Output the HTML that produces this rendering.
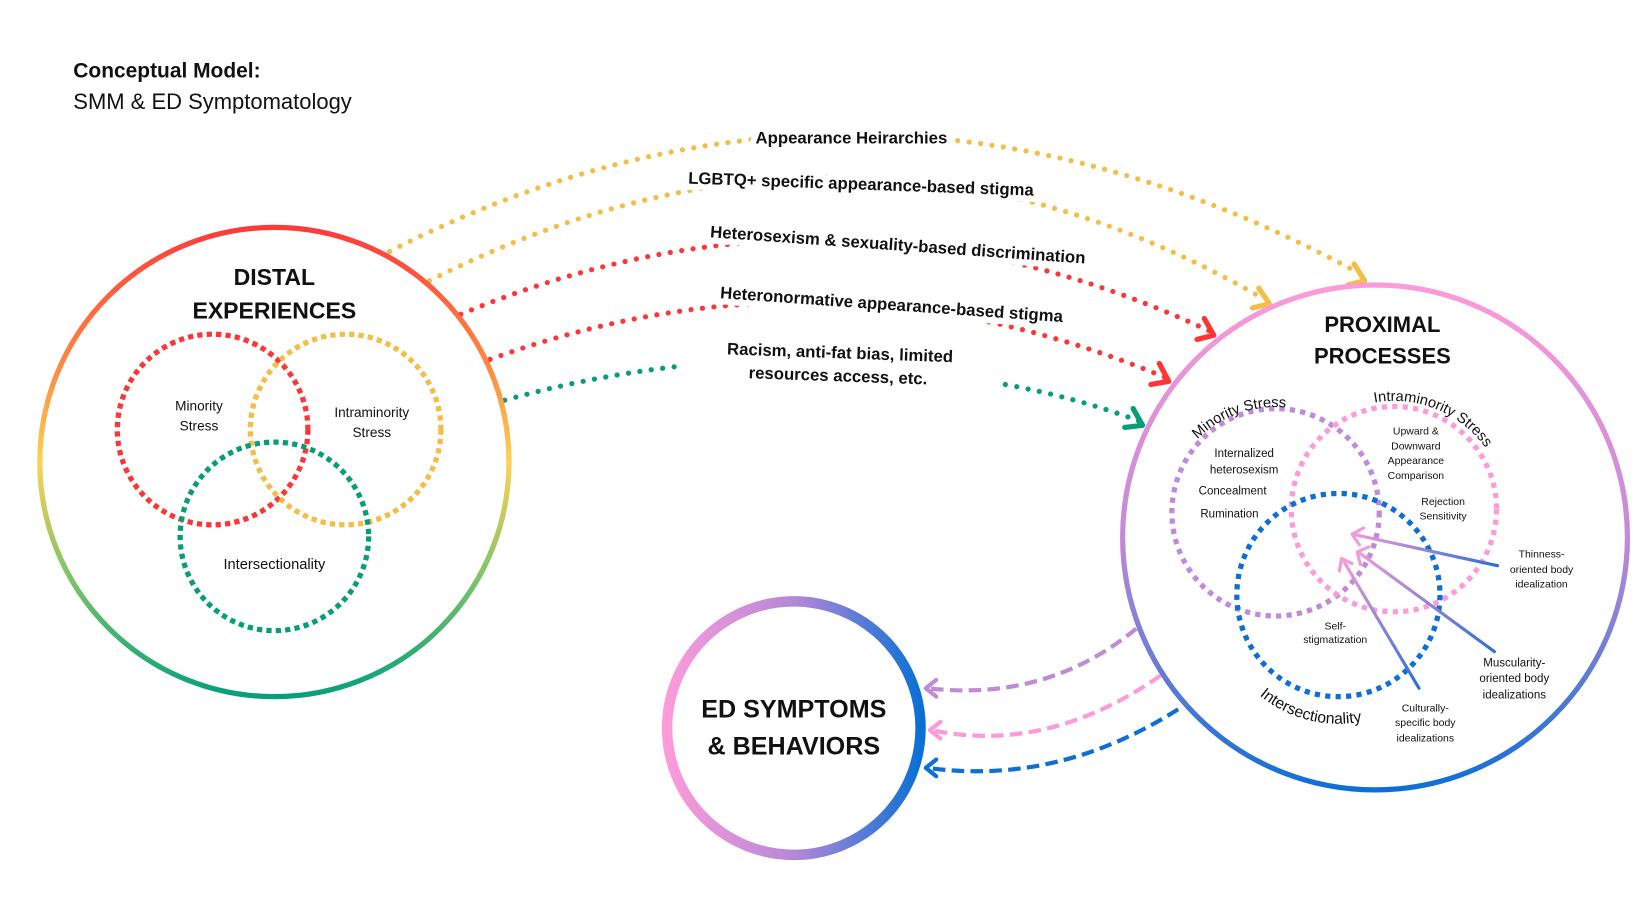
<!DOCTYPE html>
<html><head><meta charset="utf-8"><style>
html,body{margin:0;padding:0;background:#fff;}
svg{display:block;}
text{font-family:"Liberation Sans",sans-serif;fill:#111;}
.lab{font-size:16px;font-weight:bold;stroke:#fff;stroke-width:12px;paint-order:stroke;stroke-linejoin:round;}
.sm{font-size:11px;}
.xs{font-size:10px;}
</style></head><body>
<svg width="1640" height="924" viewBox="0 0 1566 882" preserveAspectRatio="none" xmlns="http://www.w3.org/2000/svg">
<defs>
<linearGradient id="gd" x1="0" y1="0" x2="0" y2="1">
<stop offset="0" stop-color="#ff3a3a"/><stop offset="0.3" stop-color="#ff8a40"/><stop offset="0.5" stop-color="#ffd154"/><stop offset="0.75" stop-color="#7cc36a"/><stop offset="1" stop-color="#06a07a"/></linearGradient>
<linearGradient id="gp" x1="0" y1="0" x2="0" y2="1">
<stop offset="0" stop-color="#fc9bd9"/><stop offset="0.5" stop-color="#c38ad8"/><stop offset="1" stop-color="#0d6fd6"/></linearGradient>
<linearGradient id="ge" x1="0" y1="0" x2="1" y2="0">
<stop offset="0" stop-color="#fc9bd9"/><stop offset="0.5" stop-color="#b488d8"/><stop offset="1" stop-color="#0a70d6"/></linearGradient>
<linearGradient id="ga" x1="1" y1="0" x2="0" y2="0">
<stop offset="0" stop-color="#2a6fd6"/><stop offset="1" stop-color="#f39ad9"/></linearGradient>
<path id="tpMin" d="M1113,480 A106,106 0 0 1 1323,480"/>
<path id="tpIntra" d="M1225,470 A108,108 0 0 1 1437,470"/>
<path id="tpInt" d="M1166,610 A118,118 0 0 0 1390,610"/>
</defs>

<text x="70" y="74" style="font-size:20px;font-weight:bold">Conceptual Model:</text>
<text x="70" y="104" style="font-size:21px">SMM &amp; ED Symptomatology</text>

<!-- top connectors -->
<g fill="none" stroke-width="5" stroke-linecap="round" stroke-dasharray="0 11">
<path d="M372,240 Q830,6 1300,262" stroke="#f4bd45"/>
<path d="M410,268 Q820,61 1208,286" stroke="#f4bd45"/>
<path d="M440,300 Q800,150 1155,316" stroke="#ff3535"/>
<path d="M468,343 Q790,226 1112,360" stroke="#ff3535"/>
<path d="M482,382 Q560,360 645,350" stroke="#069d78"/>
<path d="M960,367 Q1030,380 1088,402" stroke="#069d78"/>
</g>
<g fill="none" stroke-width="5" stroke-linecap="round" stroke-linejoin="round">
<path d="M1293,252 L1303,268 L1287,272" stroke="#f4bd45"/>
<path d="M1202,275 L1212,290 L1196,294" stroke="#f4bd45"/>
<path d="M1150,304 L1159,320 L1143,324" stroke="#ff3535"/>
<path d="M1107,347 L1116,364 L1099,367" stroke="#ff3535"/>
<path d="M1082,390 L1091,406 L1074,408" stroke="#069d78"/>
</g>
<text class="lab" x="813" y="137" text-anchor="middle">Appearance Heirarchies</text>
<text class="lab" x="822" y="181" text-anchor="middle" transform="rotate(2 822 181)">LGBTQ+ specific appearance-based stigma</text>
<text class="lab" x="857" y="239" text-anchor="middle" transform="rotate(4 857 239)">Heterosexism &amp; sexuality-based discrimination</text>
<text class="lab" x="851" y="296" text-anchor="middle" transform="rotate(4 851 296)">Heteronormative appearance-based stigma</text>
<text class="lab" x="802" y="342" text-anchor="middle" transform="rotate(2 802 342)">Racism, anti-fat bias, limited</text>
<text class="lab" x="800" y="364" text-anchor="middle" transform="rotate(2 800 364)">resources access, etc.</text>

<!-- Distal -->
<circle cx="262" cy="441" r="224" fill="none" stroke="url(#gd)" stroke-width="5"/>
<text x="262" y="272" text-anchor="middle" style="font-size:22px;font-weight:bold">DISTAL</text>
<text x="262" y="304" text-anchor="middle" style="font-size:22px;font-weight:bold">EXPERIENCES</text>
<g fill="none" stroke-width="5" stroke-dasharray="5 4">
<circle cx="203" cy="410" r="91" stroke="#ff3535"/>
<circle cx="330" cy="410" r="91" stroke="#f4bd45"/>
<circle cx="262" cy="512" r="90" stroke="#069d78"/>
</g>
<text x="190" y="392" text-anchor="middle" style="font-size:13px">Minority</text>
<text x="190" y="411" text-anchor="middle" style="font-size:13px">Stress</text>
<text x="355" y="398" text-anchor="middle" style="font-size:13px">Intraminority</text>
<text x="355" y="417" text-anchor="middle" style="font-size:13px">Stress</text>
<text x="262" y="543" text-anchor="middle" style="font-size:14px">Intersectionality</text>

<!-- dashed to ED -->
<g fill="none" stroke-width="4" stroke-dasharray="12 6">
<path d="M1085,600 Q1000,670 886,657" stroke="#c08ad8"/>
<path d="M1108,645 Q1000,720 890,697" stroke="#fc9bd9"/>
<path d="M1125,677 Q1010,750 886,733" stroke="#0d6fd6"/>
</g>
<g fill="none" stroke-width="4" stroke-linecap="round" stroke-linejoin="round">
<path d="M894,649 L884,657 L894,665" stroke="#c08ad8"/>
<path d="M898,689 L888,697 L898,705" stroke="#fc9bd9"/>
<path d="M894,725 L884,733 L894,741" stroke="#0d6fd6"/>
</g>

<!-- ED -->
<circle cx="758" cy="695" r="121" fill="#fff" stroke="url(#ge)" stroke-width="10"/>
<text x="758" y="685" text-anchor="middle" style="font-size:24px;font-weight:bold">ED SYMPTOMS</text>
<text x="758" y="720" text-anchor="middle" style="font-size:24px;font-weight:bold">&amp; BEHAVIORS</text>

<!-- Proximal -->
<circle cx="1313" cy="513" r="241" fill="#fff" stroke="url(#gp)" stroke-width="5"/>
<text x="1320" y="317" text-anchor="middle" style="font-size:21px;font-weight:bold">PROXIMAL</text>
<text x="1320" y="347" text-anchor="middle" style="font-size:21px;font-weight:bold">PROCESSES</text>
<g fill="none" stroke-width="5" stroke-dasharray="5 5">
<circle cx="1218" cy="489" r="99" stroke="#c08ad8"/>
<circle cx="1331" cy="486" r="98" stroke="#fc9bd9"/>
<circle cx="1278" cy="568" r="97" stroke="#0d6fd6"/>
</g>
<text style="font-size:14px"><textPath href="#tpMin" startOffset="38%" text-anchor="middle">Minority Stress</textPath></text>
<text style="font-size:14px"><textPath href="#tpIntra" startOffset="64%" text-anchor="middle">Intraminority Stress</textPath></text>
<text style="font-size:15px"><textPath href="#tpInt" startOffset="40%" text-anchor="middle">Intersectionality</textPath></text>

<g class="sm" text-anchor="middle">
<text class="sm" x="1188" y="436">Internalized</text>
<text class="sm" x="1188" y="452">heterosexism</text>
<text class="sm" x="1177" y="472">Concealment</text>
<text class="sm" x="1174" y="494">Rumination</text>
<text class="xs" x="1352" y="415">Upward &amp;</text>
<text class="xs" x="1352" y="429">Downward</text>
<text class="xs" x="1352" y="443">Appearance</text>
<text class="xs" x="1352" y="457">Comparison</text>
<text class="xs" x="1378" y="482">Rejection</text>
<text class="xs" x="1378" y="496">Sensitivity</text>
<text class="xs" x="1275" y="601">Self-</text>
<text class="xs" x="1275" y="614">stigmatization</text>
<text class="xs" x="1472" y="532">Thinness-</text>
<text class="xs" x="1472" y="547">oriented body</text>
<text class="xs" x="1472" y="561">idealization</text>
<text class="sm" x="1446" y="636">Muscularity-</text>
<text class="sm" x="1446" y="651">oriented body</text>
<text class="sm" x="1446" y="667">idealizations</text>
<text class="xs" x="1361" y="679">Culturally-</text>
<text class="xs" x="1361" y="693">specific body</text>
<text class="xs" x="1361" y="708">idealizations</text>
</g>

<!-- idealization arrows -->
<g fill="none" stroke-width="3" stroke-linecap="round" stroke-linejoin="round">
<line x1="1430" y1="540" x2="1292" y2="510" stroke="url(#ga)"/>
<line x1="1427" y1="622" x2="1297" y2="527" stroke="url(#ga)"/>
<line x1="1355" y1="657" x2="1282" y2="534" stroke="url(#ga)"/>
<path d="M1302,504 L1291,510 L1298,520" stroke="#f39ad9"/>
<path d="M1307,522 L1296,527 L1299,539" stroke="#f39ad9"/>
<path d="M1291,538 L1281,533 L1279,545" stroke="#f39ad9"/>
</g>
</svg>
</body></html>
